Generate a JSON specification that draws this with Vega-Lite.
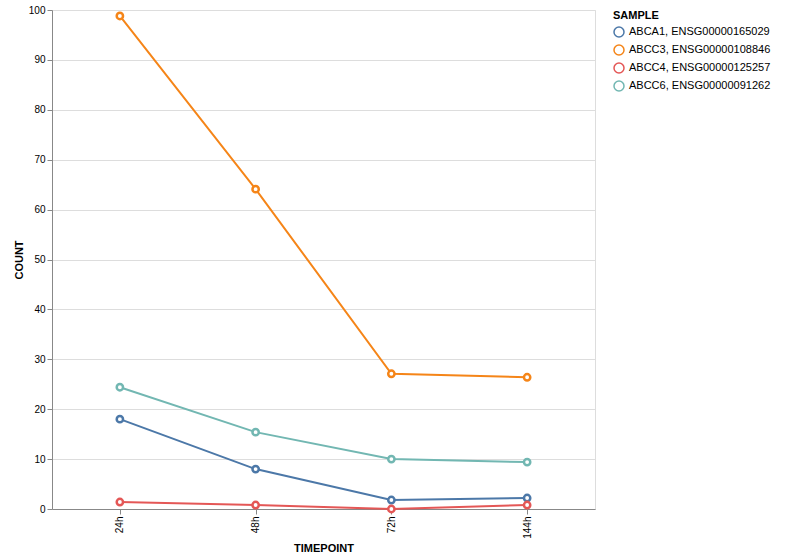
{
  "$schema": "https://vega.github.io/schema/vega-lite/v6.json",
  "width": 543,
  "height": 499,
  "padding": {"left": 13, "top": 5, "right": 5, "bottom": 5},
  "config": {"font": "Liberation Sans"},
  "data": {
    "values": [
      {"TIMEPOINT": "24h", "SAMPLE": "ABCA1, ENSG00000165029", "COUNT": 18.0},
      {"TIMEPOINT": "48h", "SAMPLE": "ABCA1, ENSG00000165029", "COUNT": 8.0},
      {"TIMEPOINT": "72h", "SAMPLE": "ABCA1, ENSG00000165029", "COUNT": 1.8},
      {"TIMEPOINT": "144h", "SAMPLE": "ABCA1, ENSG00000165029", "COUNT": 2.2},
      {"TIMEPOINT": "24h", "SAMPLE": "ABCC3, ENSG00000108846", "COUNT": 98.8},
      {"TIMEPOINT": "48h", "SAMPLE": "ABCC3, ENSG00000108846", "COUNT": 64.1},
      {"TIMEPOINT": "72h", "SAMPLE": "ABCC3, ENSG00000108846", "COUNT": 27.1},
      {"TIMEPOINT": "144h", "SAMPLE": "ABCC3, ENSG00000108846", "COUNT": 26.4},
      {"TIMEPOINT": "24h", "SAMPLE": "ABCC4, ENSG00000125257", "COUNT": 1.4},
      {"TIMEPOINT": "48h", "SAMPLE": "ABCC4, ENSG00000125257", "COUNT": 0.8},
      {"TIMEPOINT": "72h", "SAMPLE": "ABCC4, ENSG00000125257", "COUNT": 0.0},
      {"TIMEPOINT": "144h", "SAMPLE": "ABCC4, ENSG00000125257", "COUNT": 0.8},
      {"TIMEPOINT": "24h", "SAMPLE": "ABCC6, ENSG00000091262", "COUNT": 24.4},
      {"TIMEPOINT": "48h", "SAMPLE": "ABCC6, ENSG00000091262", "COUNT": 15.4},
      {"TIMEPOINT": "72h", "SAMPLE": "ABCC6, ENSG00000091262", "COUNT": 10.0},
      {"TIMEPOINT": "144h", "SAMPLE": "ABCC6, ENSG00000091262", "COUNT": 9.4}
    ]
  },
  "mark": {"type": "line", "point": {"filled": false, "fill": "white", "strokeWidth": 2.5, "size": 40}, "strokeWidth": 2},
  "encoding": {
    "x": {
      "field": "TIMEPOINT",
      "type": "ordinal",
      "sort": ["24h", "48h", "72h", "144h"],
      "axis": {"labelAngle": -90, "title": "TIMEPOINT"}
    },
    "y": {
      "field": "COUNT",
      "type": "quantitative",
      "scale": {"domain": [0, 100]},
      "axis": {"title": "COUNT", "tickCount": 10}
    },
    "color": {"field": "SAMPLE", "type": "nominal", "legend": {"title": "SAMPLE", "labelFontSize": 11}}
  }
}
